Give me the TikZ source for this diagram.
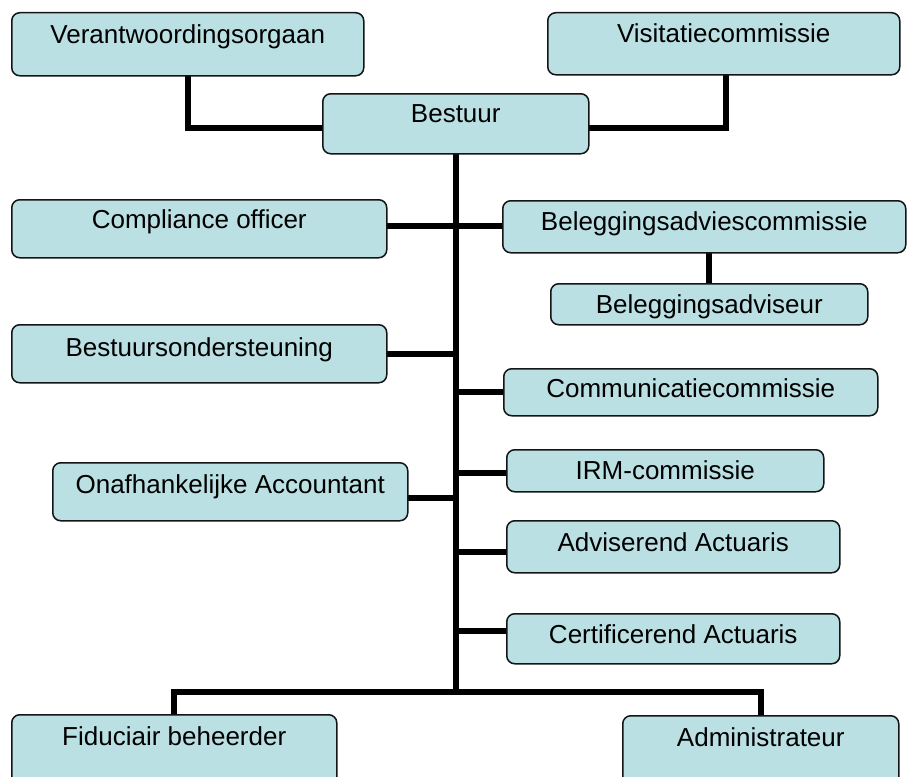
\documentclass[tikz,border=0pt]{standalone}
\usepackage{fontspec}
\setmainfont{Liberation Sans}
\usetikzlibrary{backgrounds}
\definecolor{boxfill}{RGB}{186,224,228}
\definecolor{boxline}{RGB}{20,20,20}
\tikzset{
  orgbox/.style={draw=boxline, line width=1.5pt, fill=boxfill, rounded corners=8pt,
    inner sep=0pt, anchor=north west, font=\fontsize{26}{29}\selectfont, text=black},
  link/.style={line width=6pt, line join=miter, line cap=rect, draw=black}
}
% name, x0, y0, x1, y1, baseline, text
\newcommand\orgnode[7]{%
  \pgfmathsetmacro\orgW{#4-#2}%
  \pgfmathsetmacro\orgH{#6-#3}%
  \pgfmathsetmacro\orgD{#5-#6}%
  \node[orgbox, minimum width=\orgW pt, text height=\orgH pt, text depth=\orgD pt] (#1) at (#2pt,-#3pt) {#7};%
}
\begin{document}
\begin{tikzpicture}[x=1pt,y=1pt]
\clip (0,0) rectangle (907,-776);

\orgnode{verant}{11}{12}{363}{75}{43}{Verantwoordingsorgaan}
\orgnode{visit}{547}{12}{899}{74}{42}{Visitatiecommissie}
\orgnode{bestuur}{322}{93}{588}{153}{122}{Bestuur}
\orgnode{compl}{11}{199}{386}{257}{228}{Compliance officer}
\orgnode{bac}{502}{200}{905}{252}{230}{Beleggingsadviescommissie}
\orgnode{bav}{550}{283}{867}{324}{313}{Beleggingsadviseur}
\orgnode{bso}{11}{324}{386}{382}{356}{Bestuursondersteuning}
\orgnode{comm}{503}{368}{877}{415}{397}{Communicatiecommissie}
\orgnode{onaf}{52}{462}{407}{520}{493}{Onafhankelijke Accountant}
\orgnode{irm}{506}{449}{823}{491}{479}{IRM-commissie}
\orgnode{adv}{506}{520}{839}{572}{551}{Adviserend Actuaris}
\orgnode{cert}{506}{613}{839}{663}{643}{Certificerend Actuaris}
\orgnode{fid}{11}{714}{336}{790}{745}{Fiduciair beheerder}
\orgnode{adm}{622}{715}{898}{790}{746}{Administrateur}

\coordinate (split) at ([yshift=-537pt]bestuur.south);

\begin{pgfonlayer}{background}
\fill[white] (0,0) rectangle (907,-776);
\draw[link] (verant.south) |- ([yshift=-4pt]bestuur.west);
\draw[link] ([xshift=2pt]visit.south) |- ([yshift=-4pt]bestuur.east);
\draw[link] (bestuur.south) -- (split);
\draw[link] ([yshift=3pt]compl.east) -- ([yshift=3pt]compl.east -| bestuur.south);
\draw[link] ([yshift=1pt]bac.west) -- ([yshift=1pt]bac.west -| bestuur.south);
\draw[link] (bav.north) -- (bav.north |- bac.south);
\draw[link] (bso.east) -- (bso.east -| bestuur.south);
\draw[link] (comm.west) -- (comm.west -| bestuur.south);
\draw[link] ([yshift=-6pt]onaf.east) -- ([yshift=-6pt]onaf.east -| bestuur.south);
\draw[link] ([yshift=-2pt]irm.west) -- ([yshift=-2pt]irm.west -| bestuur.south);
\draw[link] ([yshift=-5pt]adv.west) -- ([yshift=-5pt]adv.west -| bestuur.south);
\draw[link] ([yshift=8pt]cert.west) -- ([yshift=8pt]cert.west -| bestuur.south);
\draw[link] (fid.north) |- (split) -| (adm.north);
\end{pgfonlayer}
\end{tikzpicture}
\end{document}
